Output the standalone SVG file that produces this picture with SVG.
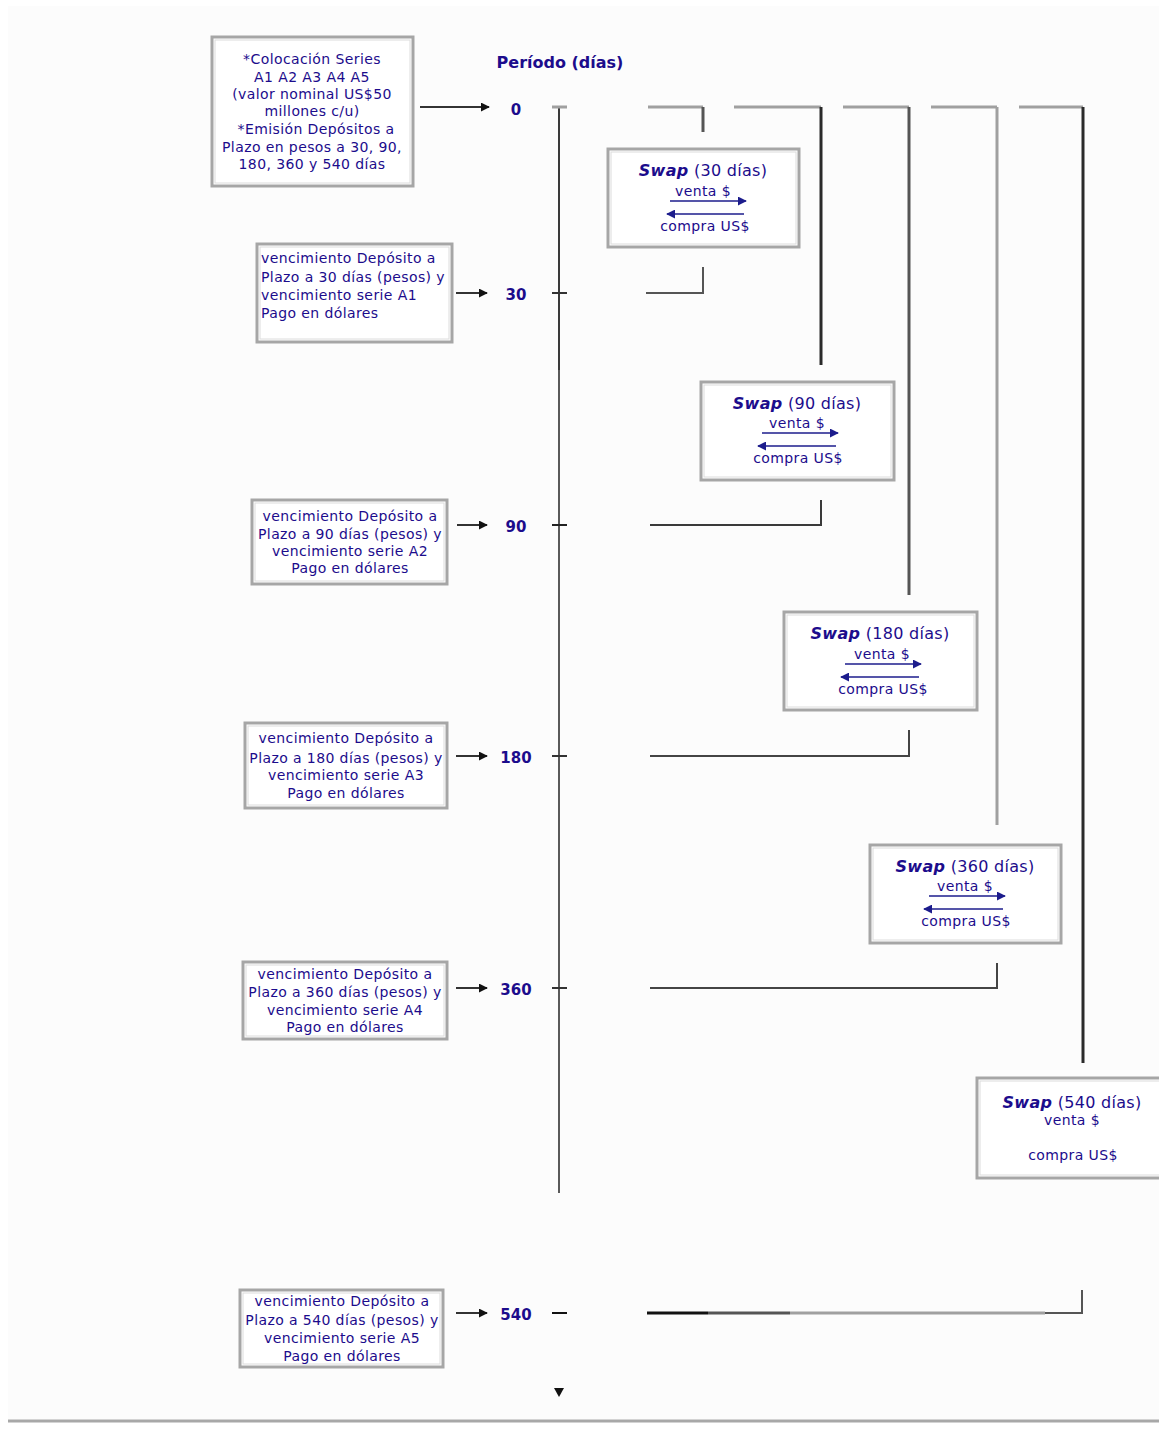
<svg xmlns="http://www.w3.org/2000/svg" width="1159" height="1429" viewBox="0 0 1159 1429">
<defs>
<style>
.bg{fill:#fcfcfc}
.box{fill:#ffffff;stroke:#a6a6a6;stroke-width:3}
.inner{fill:none;stroke:#dcdcdc;stroke-width:1}
.t{font-family:"DejaVu Sans",sans-serif;font-size:14px;letter-spacing:0.4px;fill:#1c0c8c}
.c{text-anchor:middle}
.sw{font-family:"DejaVu Sans",sans-serif;font-size:16px;letter-spacing:0.3px;fill:#1c0c8c;text-anchor:middle}
.lab{font-family:"DejaVu Sans",sans-serif;font-size:15px;font-weight:bold;fill:#1c0c8c;text-anchor:middle}
.ln{fill:none;stroke-width:3}
.g1{stroke:#a0a0a0}
.g2{stroke:#555555}
.g3{stroke:#2a2a2a}
.ar{stroke:#333;stroke-width:2;fill:none}
.na{stroke:#1c1c8c;stroke-width:1.5;fill:none}
</style>
<marker id="ah" viewBox="0 0 10 10" refX="9" refY="5" markerWidth="9" markerHeight="9" markerUnits="userSpaceOnUse" orient="auto"><path d="M0,0 L10,5 L0,10 z" fill="#111"/></marker>
<marker id="nh" viewBox="0 0 10 10" refX="9" refY="5" markerWidth="9" markerHeight="9" markerUnits="userSpaceOnUse" orient="auto"><path d="M0,0 L10,5 L0,10 z" fill="#1c1c8c"/></marker>
</defs>
<rect x="0" y="0" width="1159" height="1429" fill="#ffffff"/>
<rect class="bg" x="8" y="6" width="1151" height="1413"/>
<line x1="8" y1="1421" x2="1159" y2="1421" stroke="#a8a8a8" stroke-width="3"/>

<g id="connectors">
<line x1="559" y1="107" x2="559" y2="370" stroke="#3a3a3a" stroke-width="2"/>
<line x1="559" y1="370" x2="559" y2="1193" stroke="#5a5a5a" stroke-width="2"/>
<line x1="552" y1="107" x2="567" y2="107" stroke="#a0a0a0" stroke-width="3"/>
<line x1="552" y1="293" x2="567" y2="293" stroke="#333" stroke-width="2"/>
<line x1="552" y1="525" x2="567" y2="525" stroke="#222" stroke-width="2"/>
<line x1="552" y1="756" x2="567" y2="756" stroke="#333" stroke-width="2"/>
<line x1="552" y1="988" x2="567" y2="988" stroke="#333" stroke-width="2"/>
<line x1="552" y1="1313" x2="567" y2="1313" stroke="#111" stroke-width="2"/>
<path d="M554,1388 L564,1388 L559,1397 z" fill="#111"/>
<line class="ar" x1="420" y1="107" x2="489" y2="107" marker-end="url(#ah)"/>
<line class="ar" x1="456" y1="293" x2="487" y2="293" marker-end="url(#ah)"/>
<line class="ar" x1="457" y1="525" x2="487" y2="525" marker-end="url(#ah)"/>
<line class="ar" x1="456" y1="756" x2="487" y2="756" marker-end="url(#ah)"/>
<line class="ar" x1="456" y1="988" x2="487" y2="988" marker-end="url(#ah)"/>
<line class="ar" x1="456" y1="1313" x2="487" y2="1313" marker-end="url(#ah)"/>
<path class="ln g1" d="M648,107 H703"/><path class="ln g2" d="M703,107 V132"/>
<path class="ln g1" d="M734,107 H821"/><path class="ln g3" d="M821,107 V365"/>
<path class="ln g1" d="M843,107 H909"/><path class="ln g2" d="M909,107 V595"/>
<path class="ln g1" d="M931,107 H997"/><path class="ln g1" d="M997,107 V825"/>
<path class="ln g1" d="M1019,107 H1083"/><path class="ln g3" d="M1083,107 V1063"/>
<path d="M646,293 H703 V267" fill="none" stroke="#555" stroke-width="2"/>
<path d="M650,525 H821 V500" fill="none" stroke="#3a3a3a" stroke-width="2"/>
<path d="M650,756 H909 V730" fill="none" stroke="#444" stroke-width="2"/>
<path d="M650,988 H997 V963" fill="none" stroke="#444" stroke-width="2"/>
<path d="M647,1313 H708" fill="none" stroke="#111" stroke-width="3"/>
<path d="M708,1313 H790" fill="none" stroke="#555" stroke-width="3"/>
<path d="M790,1313 H1045" fill="none" stroke="#a0a0a0" stroke-width="3"/>
<path d="M1045,1313 H1082 V1290" fill="none" stroke="#555" stroke-width="2"/>
</g>

<g id="period-title"><text class="lab" x="560" y="68" style="font-size:16px">Período (días)</text></g>
<g id="labels">
<text class="lab" x="516" y="115">0</text>
<text class="lab" x="516" y="300">30</text>
<text class="lab" x="516" y="532">90</text>
<text class="lab" x="516" y="763">180</text>
<text class="lab" x="516" y="995">360</text>
<text class="lab" x="516" y="1320">540</text>
</g>

<g id="node-colocacion">
<rect class="box" x="212" y="37" width="201" height="149"/>
<rect class="inner" x="215" y="40" width="195" height="143"/>
<text class="t c"><tspan x="312" y="64">*Colocación Series</tspan><tspan x="312" y="82">A1 A2 A3 A4 A5</tspan><tspan x="312" y="99">(valor nominal US$50</tspan><tspan x="312" y="116">millones c/u)</tspan><tspan x="316" y="134">*Emisión Depósitos a</tspan><tspan x="312" y="152">Plazo en pesos a 30, 90,</tspan><tspan x="312" y="169">180, 360 y 540 días</tspan></text>
</g>

<g id="node-venc-30">
<rect class="box" x="257" y="244" width="195" height="98"/>
<rect class="inner" x="260" y="247" width="189" height="92"/>
<text class="t"><tspan x="261" y="263">vencimiento Depósito a</tspan><tspan x="261" y="282">Plazo a 30 días (pesos) y</tspan><tspan x="261" y="300">vencimiento serie A1</tspan><tspan x="261" y="318">Pago en dólares</tspan></text>
</g>

<g id="node-venc-90">
<rect class="box" x="252" y="500" width="195" height="84"/>
<rect class="inner" x="255" y="503" width="189" height="78"/>
<text class="t c"><tspan x="350" y="521">vencimiento Depósito a</tspan><tspan x="350" y="539">Plazo a 90 días (pesos) y</tspan><tspan x="350" y="556">vencimiento serie A2</tspan><tspan x="350" y="573">Pago en dólares</tspan></text>
</g>

<g id="node-venc-180">
<rect class="box" x="245" y="723" width="202" height="85"/>
<rect class="inner" x="248" y="726" width="196" height="79"/>
<text class="t c"><tspan x="346" y="743">vencimiento Depósito a</tspan><tspan x="346" y="763">Plazo a 180 días (pesos) y</tspan><tspan x="346" y="780">vencimiento serie A3</tspan><tspan x="346" y="798">Pago en dólares</tspan></text>
</g>

<g id="node-venc-360">
<rect class="box" x="243" y="962" width="204" height="77"/>
<rect class="inner" x="246" y="965" width="198" height="71"/>
<text class="t c"><tspan x="345" y="979">vencimiento Depósito a</tspan><tspan x="345" y="997">Plazo a 360 días (pesos) y</tspan><tspan x="345" y="1015">vencimiento serie A4</tspan><tspan x="345" y="1032">Pago en dólares</tspan></text>
</g>

<g id="node-venc-540">
<rect class="box" x="240" y="1290" width="203" height="77"/>
<rect class="inner" x="243" y="1293" width="197" height="71"/>
<text class="t c"><tspan x="342" y="1306">vencimiento Depósito a</tspan><tspan x="342" y="1325">Plazo a 540 días (pesos) y</tspan><tspan x="342" y="1343">vencimiento serie A5</tspan><tspan x="342" y="1361">Pago en dólares</tspan></text>
</g>

<g id="node-swap-30">
<rect class="box" x="608" y="149" width="191" height="98"/>
<rect class="inner" x="611" y="152" width="185" height="92"/>
<text class="sw" x="703" y="176"><tspan font-style="italic" font-weight="bold">Swap</tspan> (30 días)</text>
<text class="t c" x="703" y="196">venta $</text>
<line class="na" x1="670" y1="201" x2="746" y2="201" marker-end="url(#nh)"/>
<line class="na" x1="744" y1="214" x2="667" y2="214" marker-end="url(#nh)"/>
<text class="t c" x="705" y="231">compra US$</text>
</g>

<g id="node-swap-90">
<rect class="box" x="701" y="382" width="193" height="98"/>
<rect class="inner" x="704" y="385" width="187" height="92"/>
<text class="sw" x="797" y="409"><tspan font-style="italic" font-weight="bold">Swap</tspan> (90 días)</text>
<text class="t c" x="797" y="428">venta $</text>
<line class="na" x1="762" y1="433" x2="838" y2="433" marker-end="url(#nh)"/>
<line class="na" x1="836" y1="446" x2="758" y2="446" marker-end="url(#nh)"/>
<text class="t c" x="798" y="463">compra US$</text>
</g>

<g id="node-swap-180">
<rect class="box" x="784" y="612" width="193" height="98"/>
<rect class="inner" x="787" y="615" width="187" height="92"/>
<text class="sw" x="880" y="639"><tspan font-style="italic" font-weight="bold">Swap</tspan> (180 días)</text>
<text class="t c" x="882" y="659">venta $</text>
<line class="na" x1="845" y1="664" x2="921" y2="664" marker-end="url(#nh)"/>
<line class="na" x1="919" y1="677" x2="841" y2="677" marker-end="url(#nh)"/>
<text class="t c" x="883" y="694">compra US$</text>
</g>

<g id="node-swap-360">
<rect class="box" x="870" y="845" width="191" height="98"/>
<rect class="inner" x="873" y="848" width="185" height="92"/>
<text class="sw" x="965" y="872"><tspan font-style="italic" font-weight="bold">Swap</tspan> (360 días)</text>
<text class="t c" x="965" y="891">venta $</text>
<line class="na" x1="929" y1="896" x2="1005" y2="896" marker-end="url(#nh)"/>
<line class="na" x1="1003" y1="909" x2="924" y2="909" marker-end="url(#nh)"/>
<text class="t c" x="966" y="926">compra US$</text>
</g>

<g id="node-swap-540">
<rect class="box" x="977" y="1078" width="190" height="100"/>
<rect class="inner" x="980" y="1081" width="184" height="94"/>
<text class="sw" x="1072" y="1108"><tspan font-style="italic" font-weight="bold">Swap</tspan> (540 días)</text>
<text class="t c" x="1072" y="1125">venta $</text>
<text class="t c" x="1073" y="1160">compra US$</text>
</g>
</svg>
